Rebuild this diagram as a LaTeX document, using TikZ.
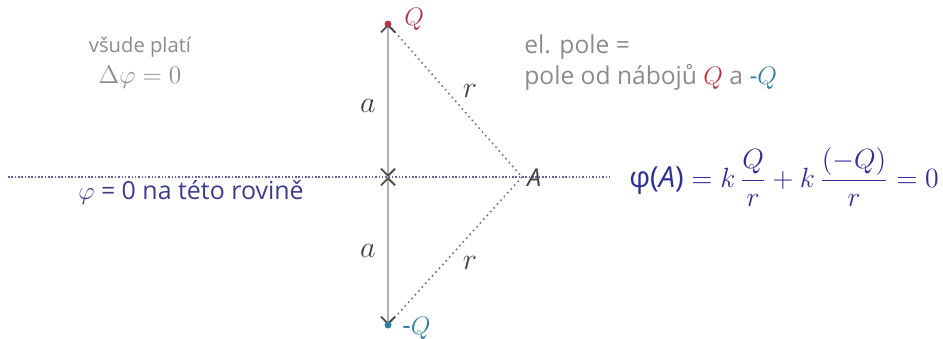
\documentclass[tikz,border=0pt]{standalone}
\usepackage{amsmath}
\usepackage{fontspec}
\setmainfont{Open Sans}
\usetikzlibrary{arrows.meta}
\definecolor{chgred}{HTML}{B03545}
\definecolor{chgteal}{HTML}{2F7F9F}
\definecolor{plane}{HTML}{3C3C8A}
\definecolor{formula}{HTML}{2E2E96}
\definecolor{note}{HTML}{8C8C8C}
\tikzset{
  vec/.style={draw=gray!60, line width=1.1pt, arrows={Straight Barb[black!70,length=4pt,width=8pt]-Straight Barb[black!70,length=4pt,width=8pt]}},
  dist/.style={draw=black!55, dotted, line width=0.9pt},
  plane/.style={draw=plane!80, densely dotted, line width=0.9pt},
  lbl/.style={inner sep=0pt, font=\fontsize{17}{19}\selectfont},
  txt/.style={inner sep=0pt, text=note, font=\fontsize{14}{16}\selectfont}
}

\begin{document}
\begin{tikzpicture}[x=0.02cm, y=-0.02cm]
  \useasboundingbox (0,0) rectangle (943,338);

  % points
  \coordinate (M) at (388,177);
  \coordinate (Q) at (388,24);
  \coordinate (nQ) at (388,325);
  \coordinate (A) at (522,177);
  \coordinate (L) at (8,177);
  \coordinate (R) at (612,177);

  % plane phi = 0
  \draw[plane] (L) -- (R);

  % distances r
  \draw[dist] (Q) -- (A);
  \draw[dist] (A) -- (nQ);

  % vectors a
  \draw[vec] (M) -- (Q);
  \draw[vec] (M) -- (nQ);

  % charges
  \fill[chgred] (Q) circle (3.5);
  \fill[chgteal] (nQ) circle (3.5);
  \node[lbl, text=chgred, anchor=west, font=\fontsize{15}{17}\selectfont] (lQ) at (404,19) {$Q$};
  \node[lbl, text=chgteal, anchor=west, font=\fontsize{15}{17}\selectfont] (lnQ) at (402,328) {-$Q$};

  % Labels
  \node[lbl, text=black!75] (la1) at (368,106) {$a$};
  \node[lbl, text=black!75] (la2) at (368,251) {$a$};
  \node[lbl, text=black!75] (lr1) at (470,91) {$r$};
  \node[lbl, text=black!75] (lr2) at (470,263) {$r$};
  \node[lbl, text=black!75, anchor=west, font=\fontsize{14}{16}\selectfont] (lA) at (527,178) {\textit{A}};

  \node[txt, font=\fontsize{11.5}{13}\selectfont] (every) at (140,47) {všude platí};
  \node[txt] (lap) at (140,77) {$\Delta\varphi = 0$};

  \node[txt, anchor=west] (field) at (524,47) {el. pole =};
  \node[txt, anchor=west] (field2) at (524,77) {pole od nábojů \textcolor{chgred}{$Q$} a \textcolor{chgteal}{-$Q$}};

  \node[lbl, text=plane, font=\fontsize{14.2}{17}\selectfont] (zero) at (191,192) {$\varphi$ = 0 na této rovině};

  \node[lbl, text=formula, anchor=west, scale=1.1, font=\fontsize{15}{18}\selectfont] (phiA) at (629,177)
    {φ(\textit{A})$\;=k\,\dfrac{Q}{r}+k\,\dfrac{(-Q)}{r}=0$};
\end{tikzpicture}
\end{document}
